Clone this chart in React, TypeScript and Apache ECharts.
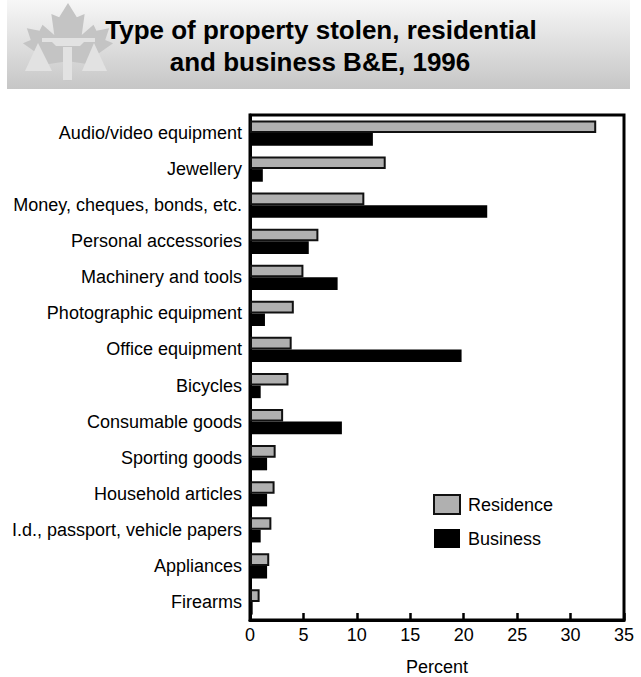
import React, { useEffect, useRef } from "react";
import * as echarts from "echarts";

const categories = [
  "Audio/video equipment",
  "Jewellery",
  "Money, cheques, bonds, etc.",
  "Personal accessories",
  "Machinery and tools",
  "Photographic equipment",
  "Office equipment",
  "Bicycles",
  "Consumable goods",
  "Sporting goods",
  "Household articles",
  "I.d., passport, vehicle papers",
  "Appliances",
  "Firearms",
];
const residence = [32.4, 12.7, 10.7, 6.4, 5.0, 4.1, 3.9, 3.6, 3.1, 2.4, 2.3, 2.0, 1.8, 0.9];
const business = [11.5, 1.2, 22.2, 5.5, 8.2, 1.4, 19.8, 1.0, 8.6, 1.6, 1.6, 1.0, 1.6, 0.25];
const xTicks = { min: 0, max: 35, interval: 5 };
const titleLines = ["Type of property stolen, residential", "and business B&E, 1996"];
const seriesNames = ["Residence", "Business"];

const FONT = "'Liberation Sans', Arial, Helvetica, sans-serif";

// stylised maple leaf outline (0..100 box)
const leafShape: number[][] = [
  [50, 0], [41, 17], [33, 13], [36, 38], [24, 26], [21, 33], [8, 30], [12, 44], [4, 48],
  [26, 66], [22, 74], [46, 70], [47, 92], [53, 92], [54, 70], [78, 74], [74, 66], [96, 48],
  [88, 44], [92, 30], [79, 33], [76, 26], [64, 38], [67, 13], [59, 17],
];

export default function App() {
  const ref = useRef<HTMLDivElement>(null);
  useEffect(() => {
    if (!ref.current) return;
    const chart = echarts.init(ref.current, undefined, { renderer: "svg" });
    const sx = 0.98;
    const sy = 0.84;
    const ox = 68 - 50 * sx;
    const oy = 3;
    const leafPts = leafShape.map(([x, y]) => [ox + x * sx, oy + y * sy]);
    const light = "#e2e2e2";
    chart.setOption({
      animation: false,
      backgroundColor: "#fff",
      textStyle: { fontFamily: FONT },
      graphic: [
        {
          type: "rect",
          shape: { x: 7, y: 0, width: 623, height: 89 },
          style: {
            fill: new echarts.graphic.LinearGradient(0, 0, 0, 1, [
              { offset: 0, color: "#f7f7f7" },
              { offset: 1, color: "#c6c6c6" },
            ]),
          },
          z: 0,
        },
        {
          type: "polygon",
          shape: { points: leafPts },
          style: { fill: "#c4c4c4" },
          z: 1,
        },
        {
          type: "polygon",
          shape: { points: [[42, 38], [95, 38], [95, 42], [84, 42], [80, 46], [56, 46], [52, 42], [42, 42]] },
          style: { fill: light },
          z: 2,
        },
        {
          type: "rect",
          shape: { x: 63, y: 47, width: 9, height: 33 },
          style: { fill: light },
          z: 2,
        },
        {
          type: "polygon",
          shape: { points: [[25, 71], [38, 43], [52, 71]] },
          style: { fill: light },
          z: 2,
        },
        {
          type: "polygon",
          shape: { points: [[82, 71], [94, 43], [107, 71]] },
          style: { fill: light },
          z: 2,
        },
        {
          type: "text",
          x: 321,
          y: 30,
          style: {
            text: titleLines[0],
            font: `bold 26px ${FONT}`,
            fill: "#000",
            textAlign: "center",
            textVerticalAlign: "middle",
          },
          z: 3,
        },
        {
          type: "text",
          x: 320,
          y: 62,
          style: {
            text: titleLines[1],
            font: `bold 26px ${FONT}`,
            fill: "#000",
            textAlign: "center",
            textVerticalAlign: "middle",
          },
          z: 3,
        },
      ],
      grid: {
        left: 250,
        right: 17,
        top: 115,
        bottom: 57,
        show: true,
        borderColor: "#000",
        borderWidth: 3,
        backgroundColor: "#fff",
        outerBoundsMode: "none",
        containLabel: false,
      },
      legend: {
        data: seriesNames,
        orient: "vertical",
        left: 428,
        top: 489,
        itemWidth: 26,
        itemHeight: 19,
        itemGap: 14,
        icon: "rect",
        textStyle: { fontSize: 18, color: "#000", fontFamily: FONT, padding: [0, 0, 0, 3] },
      },
      xAxis: {
        type: "value",
        min: xTicks.min,
        max: xTicks.max,
        interval: xTicks.interval,
        name: "Percent",
        nameLocation: "middle",
        nameGap: 38,
        nameTextStyle: { fontSize: 18, color: "#000", fontFamily: FONT },
        axisLine: { show: true, lineStyle: { color: "#000", width: 3 } },
        axisTick: { show: true, inside: true, length: 7, lineStyle: { color: "#000", width: 2.5 } },
        axisLabel: { fontSize: 18, color: "#000", margin: 6, fontFamily: FONT },
        splitLine: { show: false },
      },
      yAxis: {
        type: "category",
        data: categories,
        inverse: true,
        axisLine: { show: true, lineStyle: { color: "#000", width: 3 } },
        axisTick: { show: false },
        axisLabel: { fontSize: 18, color: "#000", margin: 8, fontFamily: FONT },
      },
      series: [
        {
          name: seriesNames[0],
          type: "bar",
          data: residence,
          barGap: "0%",
          barCategoryGap: "30%",
          itemStyle: { color: "#b0b0b0", borderColor: "#111", borderWidth: 2 },
        },
        {
          name: seriesNames[1],
          type: "bar",
          data: business,
          barGap: "0%",
          barCategoryGap: "30%",
          itemStyle: { color: "#000" },
        },
      ],
    });
    return () => chart.dispose();
  }, []);
  return (
    <div
      ref={ref}
      style={{ position: "fixed", left: 0, top: 0, width: 641, height: 677 }}
    />
  );
}
